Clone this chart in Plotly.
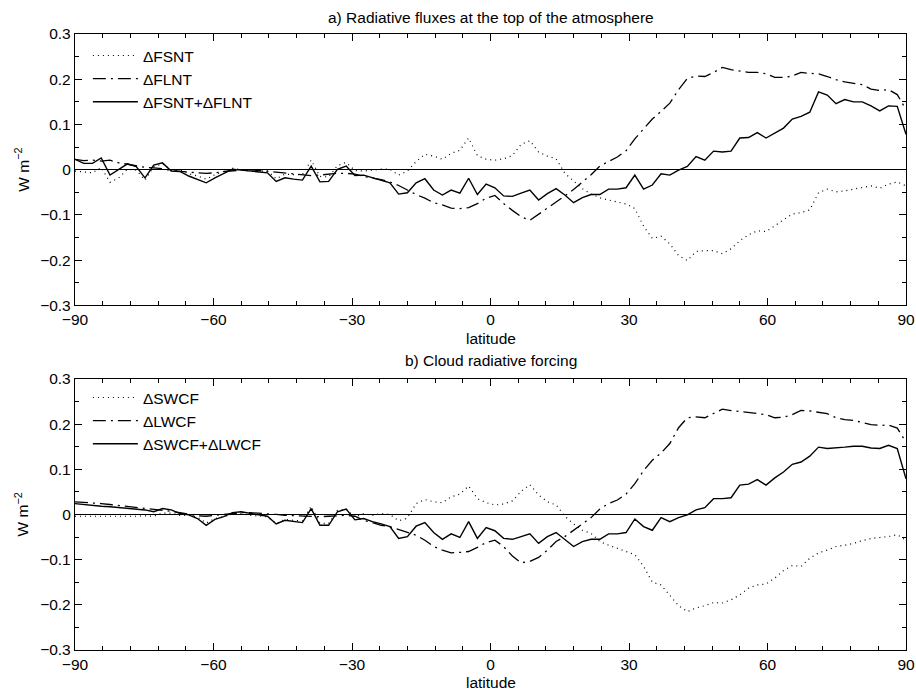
import numpy as np
import plotly.graph_objects as go
from plotly.subplots import make_subplots

# latitude grid (96 points, -90..90)
lat = np.linspace(-90, 90, 96)

# panel a) radiative fluxes at TOA (W m-2)
d_fsnt = [-0.003, -0.005, -0.007, 0.005, -0.028, -0.018, 0.001, -0.001, -0.023, 0.006, 0.013, -0.001, -0.001, -0.009, -0.014, -0.021, -0.011, -0.004, 0.003, 0.000, -0.003, -0.003, -0.003, -0.020, -0.010, -0.011, -0.011, 0.021, -0.015, -0.016, 0.009, 0.016, -0.002,
          -0.003, -0.001, 0.001, 0.001, -0.012, -0.003, 0.018, 0.034, 0.030, 0.023, 0.036, 0.043, 0.070, 0.031, 0.023, 0.021, 0.024, 0.031, 0.056, 0.064, 0.039, 0.030, 0.024, -0.008, -0.025, -0.042, -0.054, -0.062, -0.067, -0.071, -0.076, -0.086, -0.125,
          -0.152, -0.147, -0.164, -0.190, -0.201, -0.181, -0.179, -0.179, -0.186, -0.175, -0.157, -0.144, -0.135, -0.137, -0.124, -0.111, -0.098, -0.095, -0.089, -0.051, -0.043, -0.049, -0.047, -0.043, -0.040, -0.036, -0.041, -0.032, -0.027, -0.036]
d_flnt = [0.023, 0.020, 0.021, 0.019, 0.021, 0.015, 0.012, 0.008, 0.005, 0.004, 0.002, -0.002, -0.004, -0.005, -0.007, -0.008, -0.007, -0.004, -0.002, -0.001, 0.000, -0.002, -0.004, -0.006, -0.008, -0.010, -0.012, -0.013, -0.012, -0.010, -0.008, -0.008, -0.010,
          -0.015, -0.018, -0.022, -0.027, -0.035, -0.045, -0.055, -0.063, -0.073, -0.078, -0.085, -0.086, -0.084, -0.075, -0.063, -0.057, -0.075, -0.090, -0.104, -0.112, -0.098, -0.084, -0.071, -0.058, -0.044, -0.028, -0.011, 0.008, 0.018, 0.028, 0.042, 0.068, 0.090,
          0.112, 0.129, 0.147, 0.177, 0.202, 0.207, 0.206, 0.215, 0.226, 0.221, 0.218, 0.215, 0.215, 0.212, 0.204, 0.204, 0.207, 0.215, 0.213, 0.212, 0.206, 0.199, 0.194, 0.191, 0.188, 0.178, 0.175, 0.177, 0.166, 0.133]
d_fsnt_flnt = [0.023, 0.014, 0.014, 0.026, -0.012, 0.001, 0.013, 0.007, -0.018, 0.010, 0.015, -0.003, -0.004, -0.014, -0.021, -0.029, -0.018, -0.008, 0.001, -0.001, -0.003, -0.005, -0.007, -0.026, -0.018, -0.021, -0.023, 0.008, -0.027, -0.026, 0.001, 0.008, -0.013,
               -0.012, -0.018, -0.023, -0.029, -0.054, -0.051, -0.029, -0.020, -0.045, -0.056, -0.045, -0.052, -0.019, -0.055, -0.032, -0.040, -0.058, -0.059, -0.052, -0.045, -0.067, -0.053, -0.042, -0.056, -0.073, -0.062, -0.055, -0.055, -0.043, -0.043, -0.040, -0.012, -0.043,
               -0.034, -0.009, -0.012, -0.001, 0.007, 0.029, 0.021, 0.041, 0.039, 0.041, 0.070, 0.071, 0.082, 0.070, 0.081, 0.092, 0.112, 0.118, 0.127, 0.172, 0.165, 0.146, 0.155, 0.150, 0.150, 0.141, 0.130, 0.141, 0.140, 0.078]

# panel b) cloud radiative forcing (W m-2)
d_swcf = [-0.004, -0.004, -0.005, -0.005, -0.004, -0.004, -0.004, -0.004, -0.003, -0.004, 0.003, 0.003, -0.002, -0.002, -0.006, -0.019, -0.009, -0.005, 0.001, 0.002, -0.002, -0.004, -0.005, -0.020, -0.011, -0.013, -0.014, 0.018, -0.019, -0.020, 0.009, 0.012, -0.006,
          0.002, -0.002, 0.002, 0.000, -0.014, -0.008, 0.024, 0.033, 0.028, 0.026, 0.039, 0.045, 0.063, 0.035, 0.026, 0.021, 0.023, 0.030, 0.051, 0.066, 0.043, 0.028, 0.021, -0.004, -0.021, -0.035, -0.042, -0.060, -0.068, -0.075, -0.082, -0.089, -0.115,
          -0.150, -0.156, -0.178, -0.202, -0.215, -0.207, -0.202, -0.195, -0.196, -0.189, -0.178, -0.163, -0.156, -0.154, -0.141, -0.124, -0.113, -0.115, -0.097, -0.085, -0.079, -0.071, -0.068, -0.064, -0.058, -0.053, -0.051, -0.049, -0.045, -0.057]
d_lwcf = [0.028, 0.027, 0.025, 0.024, 0.022, 0.020, 0.018, 0.016, 0.013, 0.011, 0.009, 0.007, 0.004, 0.001, -0.003, -0.004, -0.002, 0.000, 0.003, 0.004, 0.004, 0.003, 0.002, 0.000, -0.002, -0.003, -0.004, -0.005, -0.005, -0.004, -0.003, -0.002, -0.004,
          -0.013, -0.018, -0.024, -0.027, -0.033, -0.040, -0.046, -0.057, -0.071, -0.079, -0.085, -0.084, -0.082, -0.073, -0.062, -0.057, -0.071, -0.092, -0.107, -0.104, -0.095, -0.079, -0.060, -0.049, -0.035, -0.020, -0.007, 0.012, 0.024, 0.032, 0.045, 0.068, 0.097,
          0.120, 0.136, 0.157, 0.192, 0.214, 0.216, 0.214, 0.224, 0.233, 0.230, 0.228, 0.226, 0.224, 0.221, 0.214, 0.215, 0.221, 0.230, 0.229, 0.226, 0.223, 0.214, 0.210, 0.208, 0.204, 0.199, 0.197, 0.198, 0.191, 0.160]
d_swcf_lwcf = [0.024, 0.022, 0.019, 0.018, 0.017, 0.015, 0.013, 0.012, 0.010, 0.006, 0.013, 0.010, 0.002, -0.001, -0.009, -0.024, -0.011, -0.005, 0.004, 0.006, 0.002, -0.001, -0.004, -0.021, -0.013, -0.016, -0.018, 0.013, -0.024, -0.024, 0.006, 0.012, -0.012,
               -0.009, -0.016, -0.021, -0.027, -0.053, -0.049, -0.026, -0.018, -0.040, -0.055, -0.043, -0.051, -0.016, -0.053, -0.029, -0.036, -0.053, -0.055, -0.049, -0.043, -0.064, -0.049, -0.040, -0.055, -0.071, -0.060, -0.055, -0.055, -0.043, -0.043, -0.040, -0.010, -0.027,
               -0.035, -0.007, -0.016, -0.007, -0.001, 0.010, 0.015, 0.035, 0.035, 0.037, 0.065, 0.067, 0.077, 0.065, 0.081, 0.094, 0.111, 0.116, 0.129, 0.149, 0.146, 0.147, 0.149, 0.151, 0.151, 0.147, 0.146, 0.153, 0.146, 0.079]

xticks = [-90, -60, -30, 0, 30, 60, 90]
yticks = [-0.3, -0.2, -0.1, 0, 0.1, 0.2, 0.3]

FONT = "Liberation Sans, Arial, Helvetica, sans-serif"
FS = 15.5
DOT = "1px,4px"
DASHDOT = "13px,5px,2px,5px"

fig = make_subplots(rows=2, cols=1, vertical_spacing=0.12)

panels = [
    (1, "legend", [("ΔFSNT", d_fsnt, DOT, 1.2), ("ΔFLNT", d_flnt, DASHDOT, 1.3), ("ΔFSNT+ΔFLNT", d_fsnt_flnt, "solid", 1.4)]),
    (2, "legend2", [("ΔSWCF", d_swcf, DOT, 1.2), ("ΔLWCF", d_lwcf, DASHDOT, 1.3), ("ΔSWCF+ΔLWCF", d_swcf_lwcf, "solid", 1.4)]),
]
for row, leg, series in panels:
    for name, vals, dash, w in series:
        fig.add_trace(go.Scatter(x=lat, y=vals, mode="lines", name=name,
                                 line=dict(color="black", width=w, dash=dash),
                                 legend=leg),
                      row=row, col=1)

top_dom = [0.5595, 1.0]
bot_dom = [0.0, 0.4401]

axis_common = dict(showline=True, linecolor="black", linewidth=1.3, mirror="allticks",
                   ticks="inside", ticklen=7, tickwidth=1.1, tickcolor="black", automargin=False,
                   showgrid=False, tickfont=dict(family=FONT, size=FS, color="black"))

for r, dom in [(1, top_dom), (2, bot_dom)]:
    fig.update_xaxes(range=[-90, 90], tickvals=xticks, zeroline=False,
                     minor=dict(dtick=6, tick0=-90, ticks="inside", ticklen=4, tickwidth=1, tickcolor="black", showgrid=False),
                     **axis_common, row=r, col=1)
    fig.update_yaxes(range=[-0.3, 0.3], tickvals=yticks, domain=dom,
                     zeroline=True, zerolinecolor="black", zerolinewidth=1,
                     minor=dict(dtick=0.05, tick0=0, ticks="inside", ticklen=4, tickwidth=1, tickcolor="black", showgrid=False),
                     **axis_common, row=r, col=1)

txt = dict(family=FONT, size=FS, color="black")
ann = []
# titles
ann.append(dict(text="a) Radiative fluxes at the top of the atmosphere", x=0.5, y=top_dom[1], xref="paper", yref="paper",
                yanchor="middle", yshift=17, showarrow=False, font=txt))
ann.append(dict(text="b) Cloud radiative forcing", x=0.5, y=bot_dom[1], xref="paper", yref="paper",
                yanchor="middle", yshift=18, showarrow=False, font=txt))
# x labels and y labels
for dom, ys in ((top_dom, -33.5), (bot_dom, -32)):
    ann.append(dict(text="latitude", x=0.5, y=dom[0], xref="paper", yref="paper",
                    yanchor="middle", yshift=ys, showarrow=False, font=txt))
    ann.append(dict(text="W m<sup>−2</sup>", x=0, y=(dom[0] + dom[1]) / 2, xref="paper", yref="paper",
                    xanchor="center", yanchor="middle", xshift=-53, textangle=-90, showarrow=False, font=txt))

leg_common = dict(xanchor="left", yanchor="top", bgcolor="rgba(0,0,0,0)", borderwidth=0,
                  font=txt, itemwidth=45, tracegroupgap=0)

fig.update_layout(
    width=916, height=691,
    margin=dict(l=75, r=10, t=34, b=41, autoexpand=False),
    paper_bgcolor="white", plot_bgcolor="white",
    font=txt,
    annotations=ann,
    legend=dict(x=0.0155, y=0.992, **leg_common),
    legend2=dict(x=0.0155, y=0.4368, **leg_common),
)

fig.write_html("out.html", config={"displayModeBar": False},
               post_script="document.body.style.margin='0px';document.body.style.overflow='hidden';")
